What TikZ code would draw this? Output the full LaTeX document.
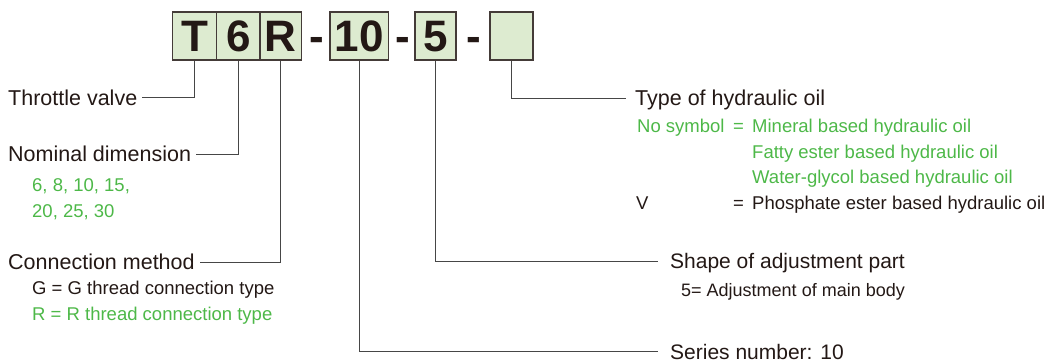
\documentclass[tikz,border=0pt]{standalone}
\usepackage{fontspec}
\usepackage{xcolor}
\usepackage{tikz}
\setmainfont{Liberation Sans}
\definecolor{codegreen}{RGB}{221,235,208}
\definecolor{textgreen}{RGB}{77,184,72}
\definecolor{inkblack}{RGB}{35,24,21}
\definecolor{leadgray}{RGB}{70,70,70}

\begin{document}
\begin{tikzpicture}[x=1pt, y=-1pt,
    codebox/.style={rectangle, draw=inkblack!85, line width=1.6pt, fill=codegreen, minimum height=48.5pt, inner sep=0pt, text height=32pt, text depth=0pt, font=\fontsize{44}{44}\selectfont\bfseries, text=inkblack},
    sepdash/.style={inner sep=0pt, text height=32pt, text depth=0pt, font=\fontsize{44}{44}\selectfont\bfseries, text=inkblack},
    title/.style={anchor=west, inner xsep=5pt, inner ysep=0pt, text height=15.4pt, text depth=0pt, font=\fontsize{21.5}{25}\selectfont, text=inkblack},
    note/.style={anchor=base west, inner sep=0pt, font=\fontsize{18.5}{22}\selectfont, text=inkblack},
    greennote/.style={note, text=textgreen},
    lead/.style={draw=leadgray, line width=0.9pt},
]
\useasboundingbox (0,0) rectangle (1047,363);

% Code boxes
\node[codebox, minimum width=44.2pt] (T) at (194.6,36) {T};
\node[codebox, minimum width=43.3pt] (six) at (238.3,36) {6};
\node[codebox, minimum width=41.7pt] (R) at (280.8,36) {R};
\node[sepdash] (dashA) at (316.5,36) {-};
\node[codebox, minimum width=58.3pt] (ten) at (359.2,36) {10};
\node[sepdash] (dashB) at (402.5,36) {-};
\node[codebox, minimum width=41pt] (five) at (435.5,36) {5};
\node[sepdash] (dashC) at (474,36) {-};
\node[codebox, minimum width=43pt] (blank) at (511.5,36) {};

% Left labels
\node[title] (valve) at (3,97.5) {Throttle valve};
\node[title] (nominal) at (3,154) {Nominal dimension};
\node[greennote] (sizesA) at (32,191.7) {6, 8, 10, 15,};
\node[greennote] (sizesB) at (32,217.3) {20, 25, 30};
\node[title] (connect) at (3,262) {Connection method};
\node[note] (gthread) at (32,295) {G = G thread connection type};
\node[greennote] (rthread) at (32,320.7) {R = R thread connection type};

% Right labels
\node[title, inner xsep=9pt] (oil) at (626,98) {Type of hydraulic oil};
\node[greennote] (nosym) at (637,132.3) {No symbol};
\node[greennote] (nosymeq) at (733,132.3) {=};
\node[greennote] (mineral) at (752,132.3) {Mineral based hydraulic oil};
\node[greennote] (fatty) at (752,158.3) {Fatty ester based hydraulic oil};
\node[greennote] (water) at (752,184) {Water-glycol based hydraulic oil};
\node[note] (vsym) at (636,210) {V};
\node[note] (vsymeq) at (733,210) {=};
\node[note] (phosphate) at (752,210) {Phosphate ester based hydraulic oil};
\node[title, inner xsep=12pt, font=\fontsize{21}{25}\selectfont] (shape) at (658,261) {Shape of adjustment part};
\node[note, font=\fontsize{18}{22}\selectfont] (mainbody) at (681,297) {5= Adjustment of main body};
\node[title, inner xsep=12pt, font=\fontsize{21}{25}\selectfont] (series) at (658,351.5) {Series number: 10};

% Leader lines
\draw[lead] (T.south) |- (valve.east);
\draw[lead] (six.south) |- (nominal.east);
\draw[lead] (R.south) |- (connect.east);
\draw[lead] (ten.south) |- (series.west);
\draw[lead] (five.south) |- (shape.west);
\draw[lead] (blank.south) |- (oil.west);

\end{tikzpicture}
\end{document}
